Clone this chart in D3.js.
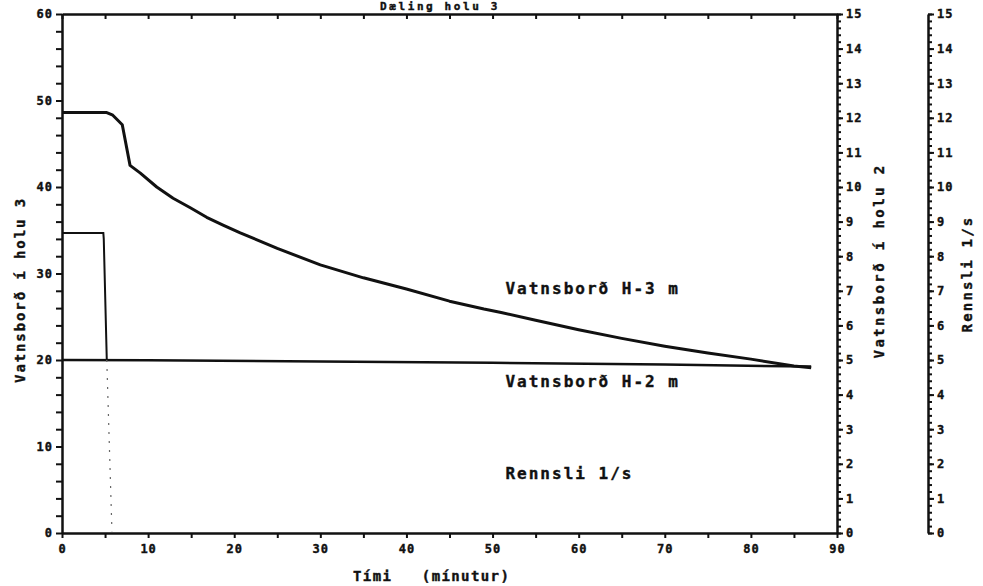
<!DOCTYPE html>
<html>
<head>
<meta charset="utf-8">
<script src="https://cdn.jsdelivr.net/npm/d3@7"></script>
<style>
  body { margin: 0; background: #fff; }
  svg text { font-family: "DejaVu Sans Mono", monospace; font-weight: bold; fill: #111; stroke: #111; stroke-width: 0.4; }
  .axis path, .axis line { stroke: #111; }
</style>
</head>
<body>
<div id="chart"></div>
<script>
// values
const h3Time  = [0, 5.2, 5.9, 7.0, 7.9, 9.1, 11.0, 12.9, 14.9, 16.8, 18.7, 20.7, 25, 30, 35, 40, 45, 49, 51, 55, 60, 65, 70, 75, 80, 85, 87];
const h3Level = [48.6, 48.6, 48.3, 47.2, 42.5, 41.6, 40.0, 38.7, 37.6, 36.5, 35.6, 34.7, 32.9, 31.0, 29.5, 28.2, 26.8, 25.9, 25.5, 24.6, 23.5, 22.5, 21.6, 20.8, 20.1, 19.3, 19.1];

const h2Time  = [0, 10, 30, 50, 70, 87];
const h2Level = [5.0, 4.99, 4.96, 4.92, 4.87, 4.81];

const flowTime = [0, 4.8, 4.85, 5.2];
const flowRate = [8.67, 8.67, 8.5, 5.0];
const flowTailTime = [5.2, 5.8];
const flowTailRate = [5.0, 0.05];

const leftTicks   = d3.range(0, 61, 2);
const bottomTicks = d3.range(0, 91, 5);
const rightMajor  = d3.range(0, 16, 1);
const rightMinor  = d3.range(0, 75.5, 1).map(d => d / 5);

const labels = [
  {text: 'Vatnsborð H-3 m', t: 51.5, v: 27.6},
  {text: 'Vatnsborð H-2 m', t: 51.5, v: 16.9},
  {text: 'Rennsli 1/s',     t: 51.5, v: 6.2}
];

const W = 983, H = 586;
const svg = d3.select('#chart').append('svg')
  .attr('width', W)
  .attr('height', H);

svg.append('rect').attr('width', W).attr('height', H).attr('fill', '#fff');

const x = d3.scaleLinear([0, 90], [62, 837]);
const yLeft = d3.scaleLinear([0, 60], [533, 14]);
const yRight = d3.scaleLinear([0, 15], [533, 14]);

function style(g, w)
{
  g.attr('class', 'axis');
  g.select('.domain').attr('stroke-width', w);
  g.selectAll('.tick line').attr('stroke-width', 2);
  g.selectAll('.tick text').attr('font-size', 12).attr('letter-spacing', 1).attr('fill', '#111');
}

// left axis
svg.append('g')
  .attr('transform', 'translate(62,0)')
  .call(d3.axisLeft(yLeft).tickValues(leftTicks).tickSize(6).tickSizeOuter(0).tickPadding(3)
    .tickFormat(d => d % 10 === 0 ? d : ''))
  .call(g => style(g, 2.5));

// bottom axis
svg.append('g')
  .attr('transform', 'translate(0,533)')
  .call(d3.axisBottom(x).tickValues(bottomTicks).tickSize(5).tickSizeOuter(0).tickPadding(6)
    .tickFormat(d => d % 10 === 0 ? d : ''))
  .call(g => style(g, 2.5));

// top axis, ticks inward
svg.append('g')
  .attr('transform', 'translate(0,14)')
  .call(d3.axisBottom(x).tickValues(bottomTicks).tickSize(5).tickSizeOuter(0).tickFormat(''))
  .call(g => style(g, 2.5));

// right axes (H-2 and flow)
[837, 928].forEach(px => {
  svg.append('g')
    .attr('transform', `translate(${px},0)`)
    .call(d3.axisRight(yRight).tickValues(rightMinor).tickSize(4).tickSizeOuter(0).tickFormat(''))
    .call(g => style(g, 2.5));
  svg.append('g')
    .attr('transform', `translate(${px},0)`)
    .call(d3.axisRight(yRight).tickValues(rightMajor).tickSize(6).tickSizeOuter(0).tickPadding(3))
    .call(g => style(g, 2.5))
    .call(g => g.select('.domain').remove());
});

// axis titles
svg.append('text')
  .attr('transform', 'translate(20,290) rotate(-90)')
  .attr('text-anchor', 'middle').attr('dominant-baseline', 'central')
  .attr('font-size', 14).attr('letter-spacing', 1.9)
  .text('Vatnsborð í holu 3');

svg.append('text')
  .attr('transform', 'translate(879,261) rotate(-90)')
  .attr('text-anchor', 'middle').attr('dominant-baseline', 'central')
  .attr('font-size', 14).attr('letter-spacing', 2.4)
  .text('Vatnsborð í holu 2');

svg.append('text')
  .attr('transform', 'translate(967,274) rotate(-90)')
  .attr('text-anchor', 'middle').attr('dominant-baseline', 'central')
  .attr('font-size', 14).attr('letter-spacing', 2.2)
  .text('Rennsli 1/s');

svg.append('text')
  .attr('x', 353).attr('y', 581)
  .attr('font-size', 14).attr('letter-spacing', 1.4)
  .attr('xml:space', 'preserve')
  .text('Tími   (mínutur)');

// title, sitting at the very top edge as in the scan
svg.append('text')
  .attr('x', 380).attr('y', 10)
  .attr('font-size', 11).attr('letter-spacing', 2.6)
  .text('Dæling holu 3');

// series
const line = d3.line().x(d => x(d[0]));

svg.append('path')
  .datum(d3.zip(h3Time, h3Level))
  .attr('fill', 'none').attr('stroke', '#111').attr('stroke-width', 3)
  .attr('stroke-linejoin', 'round')
  .attr('d', line.y(d => yLeft(d[1])));

svg.append('path')
  .datum(d3.zip(h2Time, h2Level))
  .attr('fill', 'none').attr('stroke', '#111').attr('stroke-width', 2.5)
  .attr('d', line.y(d => yRight(d[1])));

svg.append('path')
  .datum(d3.zip(flowTime, flowRate))
  .attr('fill', 'none').attr('stroke', '#111').attr('stroke-width', 2)
  .attr('d', line.y(d => yRight(d[1])));

svg.append('path')
  .datum(d3.zip(flowTailTime, flowTailRate))
  .attr('fill', 'none').attr('stroke', '#666').attr('stroke-width', 1.2)
  .attr('stroke-dasharray', '2,7')
  .attr('d', line.y(d => yRight(d[1])));

// series labels
svg.selectAll('text.series')
  .data(labels)
  .enter()
  .append('text')
  .attr('class', 'series')
  .attr('x', d => x(d.t))
  .attr('y', d => yLeft(d.v))
  .attr('font-size', 16).attr('letter-spacing', 2)
  .text(d => d.text);
</script>
</body>
</html>
